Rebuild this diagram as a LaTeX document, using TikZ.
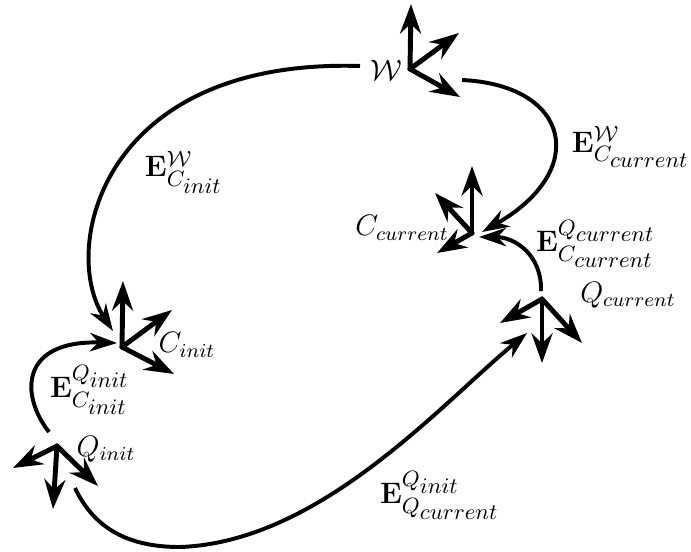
\documentclass[tikz,border=0pt]{standalone}
\usepackage{amsmath,amssymb}
\usepackage{tikz}
\usetikzlibrary{positioning,arrows.meta,calc}
\tikzset{
  axis/.style={-{Stealth[length=12pt,width=8.5pt,inset=4pt]},line width=2pt,line cap=round},
  edge/.style={-{Stealth[length=11pt,width=7.5pt,inset=3.5pt]},line width=1.6pt},
  lbl/.style={inner sep=0pt,font=\fontsize{11.5}{14}\selectfont},
  elbl/.style={inner sep=0pt,font=\fontsize{12.6}{15}\selectfont},
}

\begin{document}
\begin{tikzpicture}[x=0.01425cm,y=-0.01425cm]
\useasboundingbox (0,0) rectangle (691,551);
% frame origins
\coordinate (w) at (410,69);
\coordinate (ccur) at (472,233);
\coordinate (qcur) at (542,299);
\coordinate (cini) at (122,347);
\coordinate (qini) at (57,446);
% axes
\draw[axis] (w) -- ++(1,-65);
\draw[axis] (w) -- ++(49,-36);
\draw[axis] (w) -- ++(50,28);
\draw[axis] (ccur) -- ++(0,-67);
\draw[axis] (ccur) -- ++(-37,-40);
\draw[axis] (ccur) -- ++(-35,20);
\draw[axis] (qcur) -- ++(0,64);
\draw[axis] (qcur) -- ++(-42,24);
\draw[axis] (qcur) -- ++(40,44);
\draw[axis] (cini) -- ++(1,-66);
\draw[axis] (cini) -- ++(50,-37);
\draw[axis] (cini) -- ++(52,27);
\draw[axis] (qini) -- ++(-44,22);
\draw[axis] (qini) -- ++(-4,63);
\draw[axis] (qini) -- ++(41,40);
% frame names
\node[lbl] (wlab) at (386,70) {$\mathcal{W}$};
\node[lbl] (ccurlab) at (402,228) {$C_{current}$};
\node[lbl] (qcurlab) at (628,295) {$Q_{current}$};
\node[lbl] (cinilab) at (187,345) {$C_{init}$};
\node[lbl] (qinilab) at (106,449) {$Q_{init}$};
% transforms
\node[elbl] (ewcini) at (184,172) {$\mathbf{E}^{\mathcal{W}}_{C_{\scriptstyle init}}$};
\node[elbl] (ewccur) at (631,147) {$\mathbf{E}^{\mathcal{W}}_{C_{\scriptstyle current}}$};
\node[elbl] (eqccur) at (596,244) {$\mathbf{E}^{Q_{\scriptstyle current}}_{C_{\scriptstyle current}}$};
\node[elbl] (eqcini) at (90,390) {$\mathbf{E}^{Q_{\scriptstyle init}}_{C_{\scriptstyle init}}$};
\node[elbl] (eqqcur) at (440,495) {$\mathbf{E}^{Q_{\scriptstyle init}}_{Q_{\scriptstyle current}}$};
% ends of the connectors
\coordinate (w1) at (360,66);
\coordinate (w2) at (462,80);
\coordinate (q1) at (541,291);
\coordinate (qi1) at (49,432);
\coordinate (qi2) at (75,488);
\coordinate (cini1) at (113,331);
\coordinate (cini2) at (117,343);
\coordinate (ccur1) at (482,232);
\coordinate (ccur2) at (479,237);
\coordinate (qcur1) at (527,333);
\draw[edge] (w1) .. controls (100,58) and (60,250) .. (cini1);
\draw[edge] (w2) .. controls (570,85) and (590,170) .. (ccur1);
\draw[edge] (q1) .. controls (542,255) and (515,237) .. (ccur2);
\draw[edge] (qi1) .. controls (20,395) and (20,340) .. (cini2);
\draw[edge] (qi2) .. controls (95,530) and (130,547) .. (180,547) .. controls (320,542) and (440,405) .. (qcur1);
\end{tikzpicture}
\end{document}
